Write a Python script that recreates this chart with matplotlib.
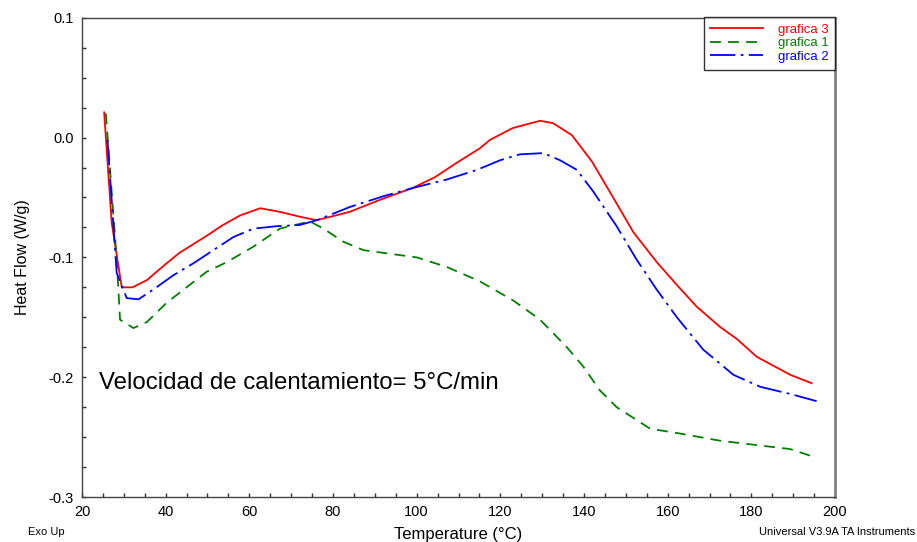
import matplotlib
matplotlib.use("Agg")
import matplotlib.pyplot as plt
from matplotlib.ticker import MultipleLocator, FormatStrFormatter

plt.rcParams['font.family'] = ['Liberation Sans', 'DejaVu Sans']
plt.rcParams['axes.unicode_minus'] = False

# DSC runs, heat flow vs temperature
red_T = [25.3, 27.1, 29.5, 32.1, 35.5, 40.2, 43.4, 49.8, 53.7, 57.8, 62.6, 67.3, 72.0, 76.1,
         84.0, 91.2, 99.1, 104.4, 109.6, 115.1, 117.5, 123.0, 129.5, 132.6, 137.1, 141.9,
         147.8, 151.8, 157.4, 162.2, 166.9, 172.5, 176.5, 181.3, 189.3, 194.4]
red_HF = [0.021, -0.071, -0.125, -0.125, -0.119, -0.105, -0.096, -0.082, -0.073, -0.065, -0.059,
          -0.062, -0.066, -0.069, -0.062, -0.052, -0.042, -0.033, -0.021, -0.009, -0.002, 0.008,
          0.014, 0.012, 0.002, -0.020, -0.055, -0.079, -0.104, -0.123, -0.141, -0.158, -0.168,
          -0.183, -0.198, -0.205]

green_T = [25.7, 28.3, 29.1, 32.3, 35.5, 40.2, 45.0, 49.8, 54.6, 61.0, 67.3, 74.5, 77.7, 82.5,
           87.3, 93.6, 100.0, 107.2, 115.1, 123.1, 129.5, 135.9, 139.8, 143.8, 147.8, 155.8,
           162.9, 172.5, 182.1, 189.3, 194.5]
green_HF = [0.020, -0.102, -0.152, -0.159, -0.154, -0.138, -0.125, -0.112, -0.104, -0.091, -0.076,
            -0.070, -0.076, -0.087, -0.094, -0.097, -0.100, -0.108, -0.120, -0.136, -0.152, -0.175,
            -0.191, -0.211, -0.225, -0.243, -0.247, -0.253, -0.257, -0.260, -0.266]

blue_T = [26.1, 28.3, 30.7, 33.5, 37.0, 41.8, 46.6, 51.4, 56.2, 61.0, 66.5, 72.0, 76.1, 84.0,
          92.0, 99.2, 107.2, 114.4, 119.9, 124.7, 130.3, 134.3, 138.3, 142.2, 147.8, 152.6,
          157.4, 162.2, 168.5, 175.7, 182.1, 189.3, 195.6]
blue_HF = [-0.002, -0.113, -0.134, -0.135, -0.127, -0.115, -0.105, -0.094, -0.083, -0.076, -0.074,
           -0.073, -0.069, -0.058, -0.049, -0.042, -0.035, -0.027, -0.019, -0.014, -0.013, -0.019,
           -0.027, -0.045, -0.074, -0.102, -0.127, -0.150, -0.177, -0.198, -0.208, -0.214, -0.220]

series = [
    ("grafica 3", red_T, red_HF, "#ff0000", "-"),
    ("grafica 1", green_T, green_HF, "#008000", (0, (6, 4))),
    ("grafica 2", blue_T, blue_HF, "#0000ff", (0, (14, 3, 1.5, 3))),
]

fig = plt.figure(figsize=(9.17, 5.42), dpi=100)
ax = fig.add_axes([0.0894, 0.083, 0.8212, 0.8843])

for label, t, hf, c, ls in series:
    ax.plot(t, hf, color=c, linestyle=ls, linewidth=1.3, label=label)

ax.set_xlim(20, 200)
ax.set_ylim(-0.3, 0.1)
ax.xaxis.set_major_locator(MultipleLocator(20))
ax.xaxis.set_minor_locator(MultipleLocator(5))
ax.yaxis.set_major_locator(MultipleLocator(0.1))
ax.yaxis.set_minor_locator(MultipleLocator(0.025))
ax.yaxis.set_major_formatter(FormatStrFormatter('%.1f'))
ax.tick_params(which='both', direction='in', length=3, width=1, colors='#333333',
               labelsize=10.5, labelcolor='black', top=False, right=False)
ax.tick_params(axis='x', pad=6)
ax.tick_params(axis='y', pad=6)

for side in ['left', 'bottom', 'top']:
    ax.spines[side].set_color('#444444')
    ax.spines[side].set_linewidth(1)
ax.spines['right'].set_color('#808080')
ax.spines['right'].set_linewidth(2)

ax.set_ylabel("Heat Flow (W/g)", fontsize=11.5, labelpad=13)
fig.text(0.5, 0.0, "Temperature (°C)", ha='center', va='bottom', fontsize=12)
fig.text(0.03, 0.01, "Exo Up", ha='left', va='bottom', fontsize=8)
fig.text(0.998, 0.01, "Universal V3.9A TA Instruments", ha='right', va='bottom', fontsize=8)

ax.text(0.022, 0.237, "Velocidad de calentamiento= 5°C/min", transform=ax.transAxes,
        fontsize=17.3, ha='left', va='center')

leg = ax.legend(loc='upper right', bbox_to_anchor=(1.0, 1.0015), fontsize=9.5,
                frameon=True, fancybox=False, handlelength=4.0, handletextpad=1.1,
                labelspacing=0.1, borderpad=0.5, borderaxespad=0)
leg.get_frame().set_edgecolor('black')
leg.get_frame().set_linewidth(1)
for text, (_, _, _, c, _) in zip(leg.get_texts(), series):
    text.set_color(c)

fig.savefig("out.png", dpi=100)
